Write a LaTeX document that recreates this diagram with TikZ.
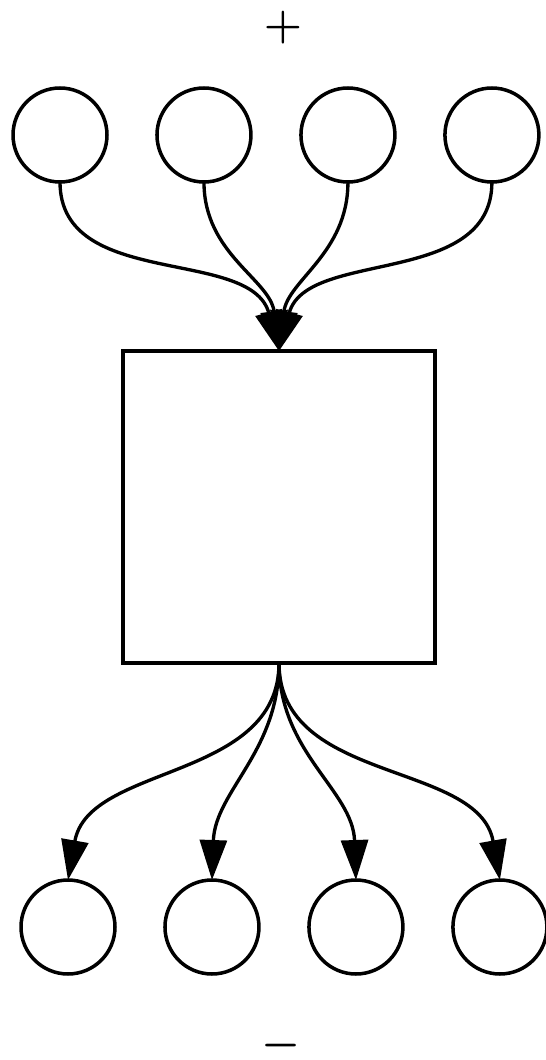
\documentclass[tikz,border=0pt]{standalone}
\usepackage{amsmath}
\usepackage{tikz}
\usetikzlibrary{positioning,arrows.meta}

\begin{document}
\begin{tikzpicture}[
    x=0.02cm, y=-0.02cm,
    port/.style={draw, line width=2pt, circle, minimum size=1.88cm, inner sep=0pt, outer sep=0pt},
    core/.style={draw, line width=2pt, minimum width=6.24cm, minimum height=6.24cm, inner sep=0pt, outer sep=0pt},
    sign/.style={font=\fontsize{27}{30}\selectfont, inner sep=0pt},
    arr/.style={-{Triangle[length=8mm, width=5.4mm]}, line width=1.9pt},
    node distance=1cm
]
\useasboundingbox (0,0) rectangle (545,1060);

\node[sign] (plus) at (283,28) {$\boldsymbol{+}$};

\node[port] (in1) at (60,135) {};
\node[port, right=of in1] (in2) {};
\node[port, right=of in2] (in3) {};
\node[port, right=of in3] (in4) {};

\node[core] (box) at (279,507) {};

\node[port] (out1) at (68,927) {};
\node[port, right=of out1] (out2) {};
\node[port, right=of out2] (out3) {};
\node[port, right=of out3] (out4) {};

\node[sign] (minus) at (281,1046) {$\boldsymbol{-}$};

% inputs into the box
\draw[arr] (in1.south) to[out=-90, in=105] (box.north);
\draw[arr] (in2.south) to[out=-90, in=97] (box.north);
\draw[arr] (in3.south) to[out=-90, in=83] (box.north);
\draw[arr] (in4.south) to[out=-90, in=75] (box.north);

% outputs from the box
\draw[arr] (box.south) to[out=-90, in=80] (out1.north);
\draw[arr] (box.south) to[out=-90, in=88] (out2.north);
\draw[arr] (box.south) to[out=-90, in=92] (out3.north);
\draw[arr] (box.south) to[out=-90, in=100] (out4.north);

\end{tikzpicture}
\end{document}
